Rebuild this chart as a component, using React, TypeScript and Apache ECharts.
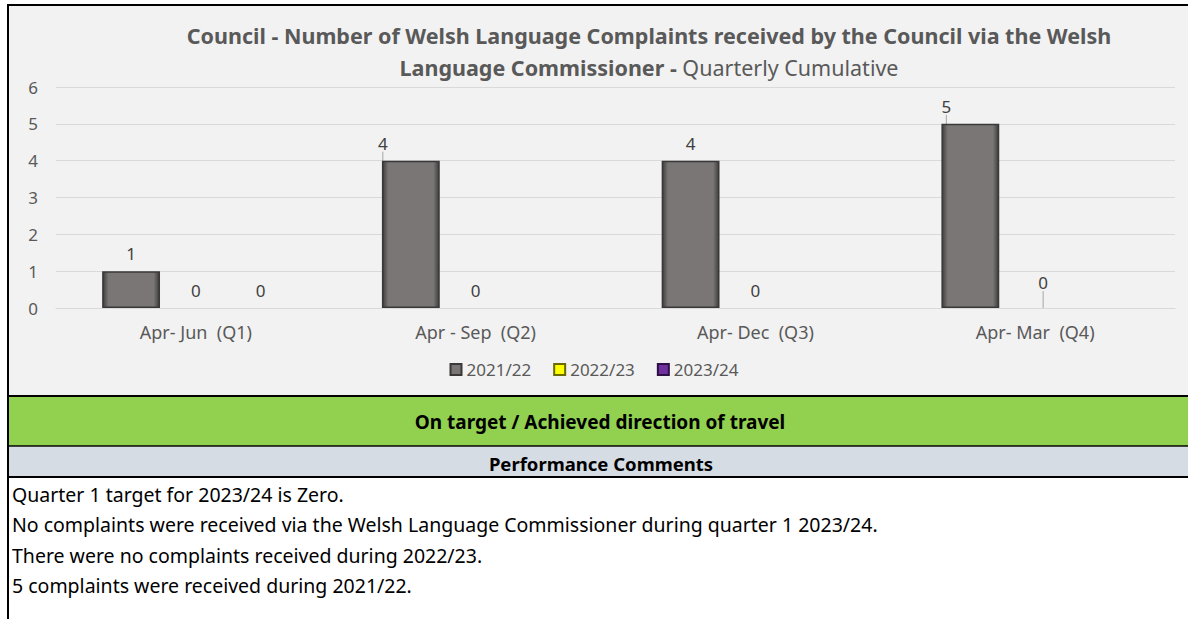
import React, { useEffect, useRef } from "react";
import * as echarts from "echarts";

const categories = ["Apr- Jun  (Q1)", "Apr - Sep  (Q2)", "Apr- Dec  (Q3)", "Apr- Mar  (Q4)"];
const seriesNames = ["2021/22", "2022/23", "2023/24"];
const values2122 = [1, 4, 4, 5];
const values2223 = [0, 0, 0, 0];
const values2324: (number | null)[] = [0, null, null, null];
const yTicks = { min: 0, max: 6, interval: 1 };

const titleLine1 = "Council - Number of Welsh Language Complaints received by the Council via the Welsh";
const titleLine2Bold = "Language Commissioner -";
const titleLine2Normal = " Quarterly Cumulative";
const statusText = "On target / Achieved direction of travel";
const commentsHeader = "Performance Comments";
const comments = [
  "Quarter 1 target for 2023/24 is Zero.",
  "No complaints were received via the Welsh Language Commissioner during quarter 1 2023/24.",
  "There were no complaints received during 2022/23.",
  "5 complaints were received during 2021/22.",
];

const FONT = "'Noto Sans', sans-serif";

function bevel(main: string, edge: string) {
  return {
    type: "linear",
    x: 0,
    y: 0,
    x2: 1,
    y2: 0,
    colorStops: [
      { offset: 0, color: edge },
      { offset: 0.1, color: main },
      { offset: 0.9, color: main },
      { offset: 1, color: edge },
    ],
  };
}

export default function App() {
  const ref = useRef<HTMLDivElement>(null);
  useEffect(() => {
    if (!ref.current) return;
    const chart = echarts.init(ref.current, null, { renderer: "svg" });
    const labelBase = {
      show: true,
      position: "top",
      distance: 9,
      color: "#404040",
      fontSize: 17,
      fontFamily: FONT,
    };
    const shifts: Record<string, [number, number]> = {
      "0-1": [-28, 0],
      "0-3": [-24, 0],
      "1-3": [8, -8],
    };
    const option: any = {
      animation: false,
      backgroundColor: "#ffffff",
      grid: { left: 56, right: 13, top: 87, bottom: 311 },
      legend: {
        bottom: 236,
        left: "center",
        itemWidth: 11,
        itemHeight: 11,
        itemGap: 22,
        icon: "rect",
        textStyle: { color: "#595959", fontSize: 17, fontFamily: FONT },
        data: seriesNames,
      },
      xAxis: {
        type: "category",
        data: categories,
        axisLine: { lineStyle: { color: "#d9d9d9" } },
        axisTick: { show: false },
        axisLabel: { color: "#595959", fontSize: 18, fontFamily: FONT, margin: 15 },
      },
      yAxis: {
        type: "value",
        min: yTicks.min,
        max: yTicks.max,
        interval: yTicks.interval,
        axisLabel: { color: "#595959", fontSize: 17, fontFamily: FONT, margin: 18 },
        splitLine: { lineStyle: { color: "#d9d9d9" } },
        axisLine: { show: false },
      },
      series: [
        { name: seriesNames[0], data: values2122, main: "#7a7676", edge: "#3f3d3d", border: "#3a3838" },
        { name: seriesNames[1], data: values2223, main: "#ffff00", edge: "#8a8a00", border: "#6b6b00" },
        { name: seriesNames[2], data: values2324, main: "#7030a0", edge: "#3a1555", border: "#2e1044" },
      ].map((s, si) => ({
        type: "bar",
        name: s.name,
        data: s.data.map((v, di) => {
          const shifted = !!shifts[`${si}-${di}`];
          if (v === null) return v;
          const item: any = { value: v, labelLine: { show: shifted } };
          if (v === 0) item.itemStyle = { borderWidth: 0, color: "transparent" };
          return item;
        }),
        barGap: "12%",
        barCategoryGap: "33%",
        itemStyle: { color: bevel(s.main, s.edge), borderColor: s.border, borderWidth: 1.5 },
        label: labelBase,
        labelLine: { show: false, lineStyle: { color: "#a6a6a6", width: 1 } },
        labelLayout: (p: any) => {
          const sh = shifts[`${si}-${p.dataIndex}`];
          return sh ? { dx: sh[0], dy: sh[1] } : {};
        },
      })),
      graphic: [
        { type: "rect", z: -100, shape: { x: 8, y: 6, width: 1180, height: 390 }, style: { fill: "#f2f2f2" }, silent: true },
        { type: "rect", z: -100, shape: { x: 8, y: 397, width: 1180, height: 49 }, style: { fill: "#92d050" }, silent: true },
        { type: "rect", z: -100, shape: { x: 8, y: 447, width: 1180, height: 30 }, style: { fill: "#d6dce4" }, silent: true },
        { type: "line", z: 100, shape: { x1: 7, y1: 5, x2: 1188, y2: 5 }, style: { stroke: "#000", lineWidth: 2 } },
        { type: "line", z: 100, shape: { x1: 8, y1: 4, x2: 8, y2: 619 }, style: { stroke: "#000", lineWidth: 2 } },
        { type: "line", z: 100, shape: { x1: 7, y1: 396, x2: 1188, y2: 396 }, style: { stroke: "#000", lineWidth: 2 } },
        { type: "line", z: 100, shape: { x1: 7, y1: 446, x2: 1188, y2: 446 }, style: { stroke: "#000", lineWidth: 1.5 } },
        { type: "line", z: 100, shape: { x1: 7, y1: 477, x2: 1188, y2: 477 }, style: { stroke: "#000", lineWidth: 2 } },
        {
          type: "text",
          x: 649,
          y: 35,
          style: {
            text: titleLine1,
            align: "center",
            verticalAlign: "middle",
            fill: "#595959",
            font: `bold 21.5px ${FONT}`,
          },
        },
        {
          type: "text",
          x: 649,
          y: 67,
          style: {
            text: `{b|${titleLine2Bold}}{n|${titleLine2Normal}}`,
            align: "center",
            verticalAlign: "middle",
            rich: {
              b: { fill: "#595959", fontWeight: "bold", fontSize: 21.5, fontFamily: FONT },
              n: { fill: "#595959", fontSize: 21.5, fontFamily: FONT },
            },
          },
        },
        {
          type: "text",
          x: 600,
          y: 422,
          style: { text: statusText, align: "center", verticalAlign: "middle", fill: "#000", font: `bold 19px ${FONT}` },
        },
        {
          type: "text",
          x: 601,
          y: 463,
          style: { text: commentsHeader, align: "center", verticalAlign: "middle", fill: "#000", font: `bold 18.5px ${FONT}` },
        },
        ...comments.map((c, i) => ({
          type: "text",
          x: 12,
          y: 494 + i * 30.5,
          style: { text: c, align: "left", verticalAlign: "middle", fill: "#000", font: `19.5px ${FONT}` },
        })),
      ],
    };
    chart.setOption(option);
    return () => chart.dispose();
  }, []);
  return (
    <div style={{ position: "fixed", left: 0, top: 0, width: 1188, height: 619 }}>
      <div ref={ref} style={{ width: 1188, height: 619 }} />
    </div>
  );
}
